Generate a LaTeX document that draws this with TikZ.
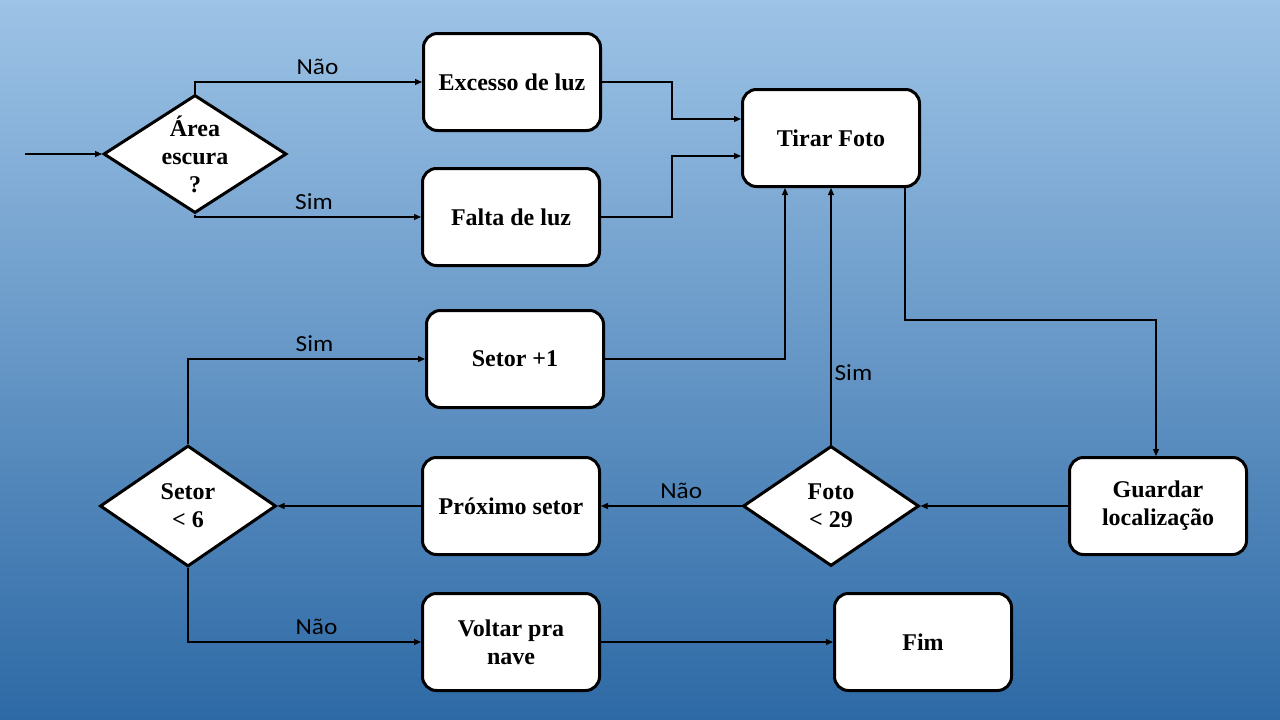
\documentclass[tikz,border=0pt]{standalone}
\usepackage{fontspec}
\setmainfont{Liberation Serif}
\newfontfamily\labelfont[FakeStretch=1.1]{Carlito}
\usepackage{tikz}
\usetikzlibrary{shapes.geometric, arrows.meta, positioning, backgrounds}

\definecolor{bgtop}{RGB}{157,195,230}
\definecolor{bgmid}{RGB}{100,160,215}
\definecolor{bgbot}{RGB}{45,105,165}

\tikzset{
  box/.style={draw, fill=white, rounded corners=14pt, line width=3pt,
    minimum width=177pt, minimum height=97pt, align=center,
    font=\bfseries\fontsize{24}{28}\selectfont},
  choice/.style={draw, fill=white, diamond, line width=3pt, inner sep=-20pt,
    align=center, font=\bfseries\fontsize{24}{28}\selectfont},
  flow/.style={-{Triangle[length=7pt,width=6pt]}, line width=1.2pt},
  tag/.style={font=\labelfont\fontsize{23}{25}\selectfont, inner sep=3pt}
}

\begin{document}
\begin{tikzpicture}[x=1pt, y=-1pt]
  \shade[top color=bgtop, middle color=bgmid, bottom color=bgbot] (0,0) rectangle (1280,720);
  \useasboundingbox (0,0) rectangle (1280,720);

  % nodes
  \node[choice, minimum width=183pt, minimum height=118pt] (area) at (195,154) {Área\\escura\\?};
  \node[box] (excesso) at (512,82)  {Excesso de luz};
  \node[box] (falta)   at (511,217) {Falta de luz};
  \node[box] (tirar)   at (831,138) {Tirar Foto};
  \node[box] (setor1)  at (515,359) {Setor +1};
  \node[choice, minimum width=176pt, minimum height=121pt] (setor) at (188,506) {Setor\\< 6};
  \node[box] (proximo) at (511,506) {Próximo setor};
  \node[choice, minimum width=176pt, minimum height=120pt] (foto) at (831,506) {Foto\\< 29};
  \node[box] (guardar) at (1158,506) {Guardar\\localização};
  \node[box] (voltar)  at (511,642) {Voltar pra\\nave};
  \node[box] (fim)     at (923,642) {Fim};
  \coordinate (inicio) at (25,154);

  % connectors
  \draw[flow] (inicio) -- (area.west);
  \draw[flow] (area.north) |- node[tag, pos=0.75, above=4pt, xshift=9pt] {Não} (excesso.west);
  \draw[flow] (area.south) |- node[tag, pos=0.75, above=4pt, xshift=6pt] {Sim} (falta.west);
  \draw[flow] (excesso.east) -- ++(70,0) |- ([yshift=19pt]tirar.west);
  \draw[flow] (falta.east) -- ++(71,0) |- ([yshift=-18pt]tirar.west);
  \draw[flow] (setor1.east) -| ([xshift=-46pt]tirar.south);
  \draw[flow] (foto.north) -- node[tag, pos=0.28, right] {Sim} (tirar.south);
  \draw[flow] ([xshift=74pt]tirar.south) -- ++(0,132) -| ([xshift=-2pt]guardar.north);
  \draw[flow] (guardar.west) -- (foto.east);
  \draw[flow] (foto.west) -- node[tag, above=4pt, xshift=10pt] {Não} (proximo.east);
  \draw[flow] (proximo.west) -- (setor.east);
  \draw[flow] (setor.north) |- node[tag, pos=0.75, above=4pt, xshift=8pt] {Sim} (setor1.west);
  \draw[flow] (setor.south) |- node[tag, pos=0.75, above=4pt, xshift=12pt] {Não} (voltar.west);
  \draw[flow] (voltar.east) -- (fim.west);
\end{tikzpicture}
\end{document}
